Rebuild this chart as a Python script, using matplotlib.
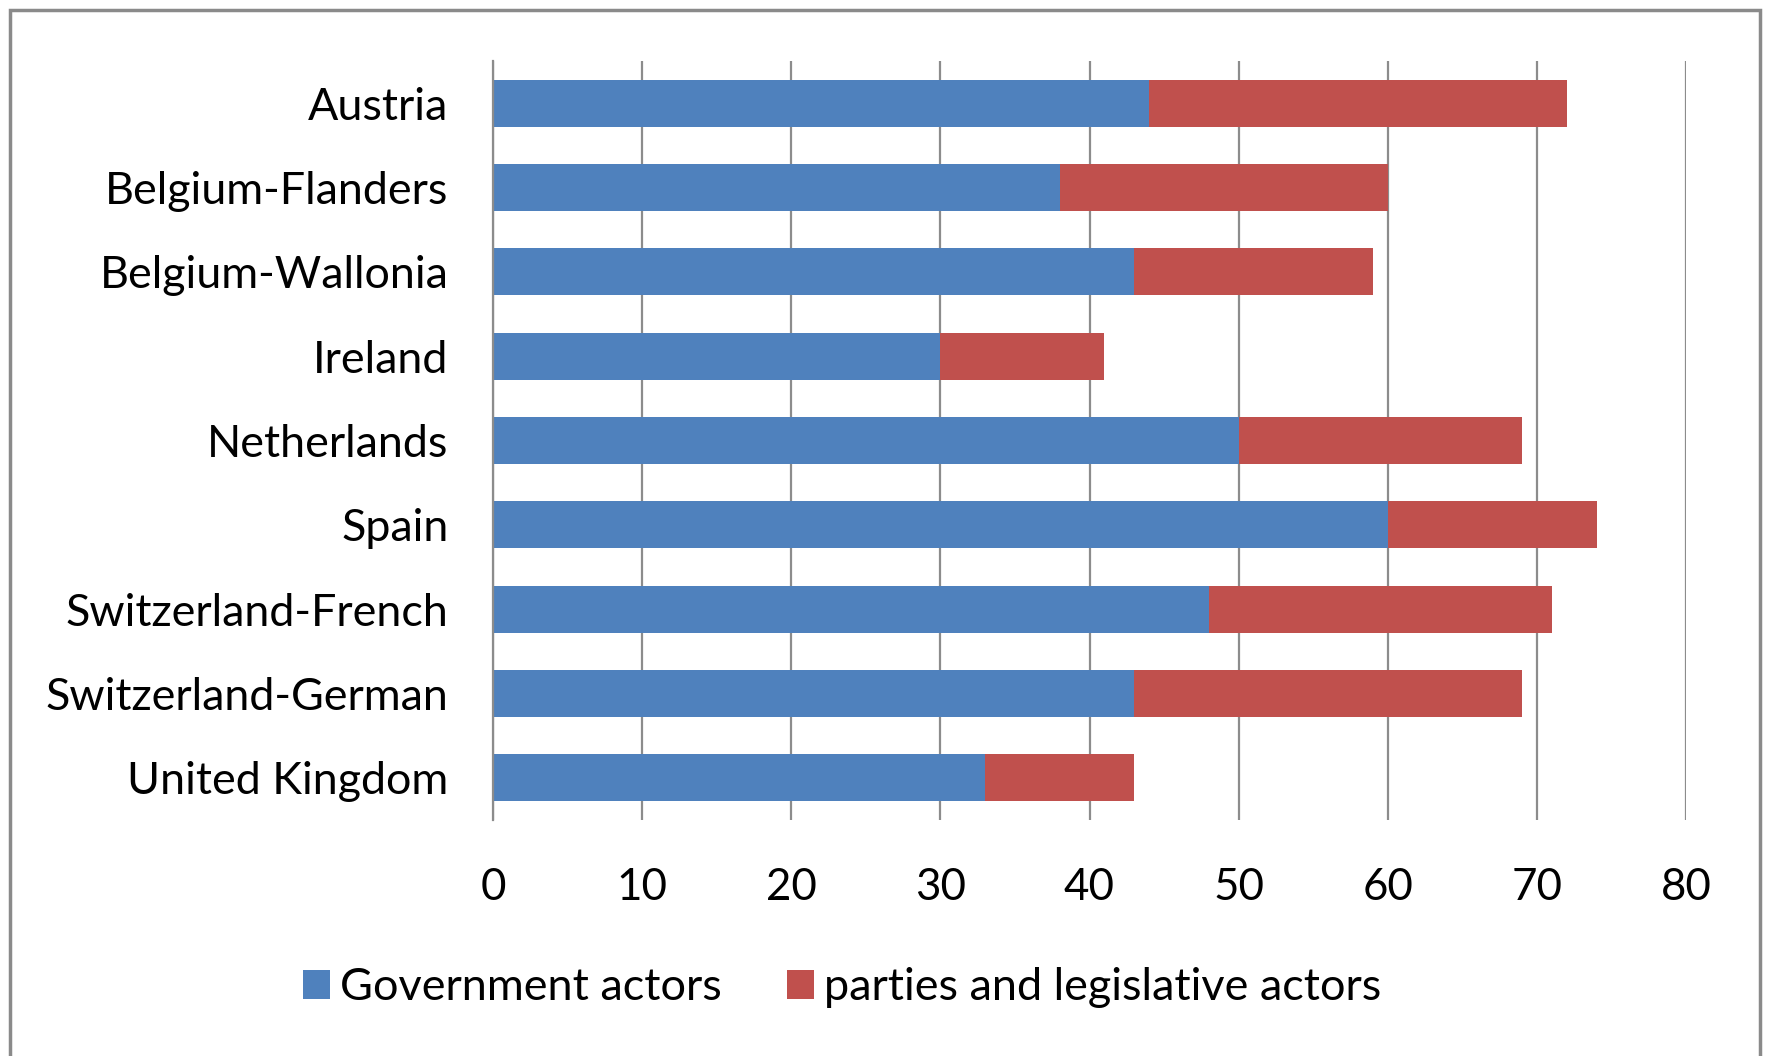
import matplotlib
matplotlib.use("Agg")
import matplotlib.pyplot as plt
from matplotlib.patches import Rectangle

categories = ["Austria", "Belgium-Flanders", "Belgium-Wallonia", "Ireland",
              "Netherlands", "Spain", "Switzerland-French", "Switzerland-German",
              "United Kingdom"]
government = [44, 38, 43, 30, 50, 60, 48, 43, 33]
parties = [28, 22, 16, 11, 19, 14, 23, 26, 10]
series_names = ["Government actors", "parties and legislative actors"]
xticks = [0, 10, 20, 30, 40, 50, 60, 70, 80]

BLUE = "#4F81BD"
RED = "#C0504D"
GRID = "#8C8C8C"
FONT = "Lato"

W, H = 1769, 1056
fig = plt.figure(figsize=(W / 100, H / 100), dpi=100)
fig.patch.set_facecolor("white")

# outer border (bottom edge falls outside the image)
fig.add_artist(Rectangle((9.5 / W, -0.05), (1760 - 9.5) / W, 1.05 - 9.5 / H,
                         transform=fig.transFigure, fill=False,
                         edgecolor="#8A8A8A", linewidth=2.5))

ax_l, ax_r, ax_t, ax_b = 493, 1686, 61, 820
ax = fig.add_axes([ax_l / W, 1 - ax_b / H, (ax_r - ax_l) / W, (ax_b - ax_t) / H])

y = list(range(len(categories)))
ax.barh(y, government, height=0.56, color=BLUE, label=series_names[0], zorder=3)
ax.barh(y, parties, left=government, height=0.56, color=RED,
        label=series_names[1], zorder=3)

ax.set_xlim(0, 80)
ax.set_ylim(len(categories) - 0.5, -0.5)
ax.set_xticks(xticks)
ax.set_yticks(y)
ax.set_yticklabels(categories)
ax.set_xticklabels([str(v) for v in xticks])

for s in ["top", "right", "bottom"]:
    ax.spines[s].set_visible(False)
ax.spines["left"].set_color(GRID)
ax.spines["left"].set_linewidth(1.6)
ax.spines["left"].set_zorder(4)
ax.grid(axis="x", color=GRID, linewidth=1.6, zorder=1)
ax.tick_params(axis="both", length=0)

renderer = fig.canvas.get_renderer()


def fit_size(text, target_px, base=20):
    t = fig.text(0, 0, text, fontsize=base, family=FONT)
    w = t.get_window_extent(renderer).width
    t.remove()
    return base * target_px / w


cat_fs = fit_size("Switzerland-German", 405)
tick_fs = fit_size("80", 51)
leg_fs = fit_size("parties and legislative actors", 560)

for lab in ax.get_yticklabels():
    lab.set_fontsize(cat_fs)
    lab.set_family(FONT)
    lab.set_color("black")
for lab in ax.get_xticklabels():
    lab.set_fontsize(tick_fs)
    lab.set_family(FONT)
    lab.set_color("black")
ax.tick_params(axis="y", pad=32)
ax.tick_params(axis="x", pad=34)

leg = fig.legend(loc="center", bbox_to_anchor=(842 / W, 1 - 988 / H),
                 ncol=2, frameon=False, prop={"family": FONT, "size": leg_fs},
                 handlelength=0.6, handleheight=0.6, handletextpad=0.22,
                 columnspacing=1.45)

fig.savefig("out.png", dpi=100, facecolor="white")
